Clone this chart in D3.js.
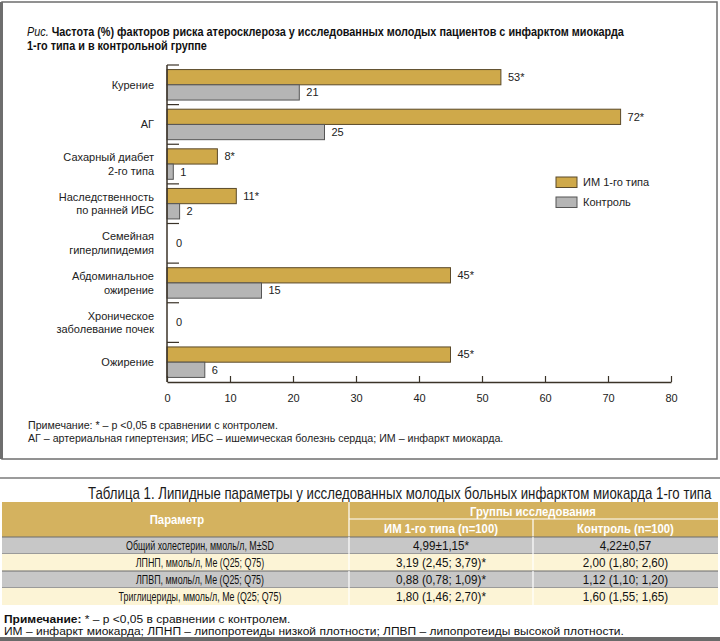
<!DOCTYPE html>
<html>
<head>
<meta charset="utf-8">
<script src="https://cdn.jsdelivr.net/npm/d3@7"></script>
<style>
  html, body { margin: 0; padding: 0; background: #fff; }
  svg { display: block; }
</style>
</head>
<body>
<svg id="chart" width="720" height="641"></svg>
<script>
// ---------- data ----------
const categories = [
  ["Курение"],
  ["АГ"],
  ["Сахарный диабет", "2-го типа"],
  ["Наследственность", "по ранней ИБС"],
  ["Семейная", "гиперлипидемия"],
  ["Абдоминальное", "ожирение"],
  ["Хроническое", "заболевание почек"],
  ["Ожирение"]
];
const seriesNames = ["ИМ 1-го типа", "Контроль"];
const miValues = [53, 72, 8, 11, 0, 45, 0, 45];
const miSignif = ["*", "*", "*", "*", "", "*", "", "*"];
const controlValues = [21, 25, 1, 2, 0, 15, 0, 6];
const xTicks = [0, 10, 20, 30, 40, 50, 60, 70, 80];

const titleItalic = "Рис.";
const titleLines = [
  " Частота (%) факторов риска атеросклероза у исследованных молодых пациентов с инфарктом миокарда",
  "1-го типа и в контрольной группе"
];
const noteLines = [
  "Примечание: * – р <0,05 в сравнении с контролем.",
  "АГ – артериальная гипертензия; ИБС – ишемическая болезнь сердца; ИМ – инфаркт миокарда."
];

const tableTitle = "Таблица 1. Липидные параметры у исследованных молодых больных инфарктом миокарда 1-го типа";
const tableHeader = ["Параметр", "Группы исследования", "ИМ 1-го типа (n=100)", "Контроль (n=100)"];
const tableParams = [
  "Общий холестерин, ммоль/л, M±SD",
  "ЛПНП, ммоль/л, Me (Q25; Q75)",
  "ЛПВП, ммоль/л, Me (Q25; Q75)",
  "Триглицериды, ммоль/л, Me (Q25; Q75)"
];
const tableMI = ["4,99±1,15*", "3,19 (2,45; 3,79)*", "0,88 (0,78; 1,09)*", "1,80 (1,46; 2,70)*"];
const tableControl = ["4,22±0,57", "2,00 (1,80; 2,60)", "1,12 (1,10; 1,20)", "1,60 (1,55; 1,65)"];
const tableNoteBold = "Примечание:";
const tableNoteRest = " * – р <0,05 в сравнении с контролем.";
const tableNote2 = "ИМ – инфаркт миокарда; ЛПНП – липопротеиды низкой плотности; ЛПВП – липопротеиды высокой плотности.";

// ---------- styles ----------
const gold = "#CFA94A", goldStroke = "#5b4a2a";
const grey = "#B5B5B5", greyStroke = "#555555";
const axisColor = "#3b3328";
const sansFont = "'Liberation Sans', Arial, sans-serif";

const svg = d3.select("#chart");

// horizontal squeeze helper (imitates condensed faces)
function squeeze(sel, k) {
  const x0 = +sel.attr("x");
  sel.attr("transform", `translate(${x0},0) scale(${k},1) translate(${-x0},0)`);
  return sel;
}
function widthOf(sel) { return sel.node().getComputedTextLength(); }

// figure box
svg.append("rect").attr("x", 2).attr("y", 2).attr("width", 715).attr("height", 457)
  .attr("fill", "none").attr("stroke", "#6e6e6e").attr("stroke-width", 1.5);
svg.append("line").attr("x1", 1.5).attr("x2", 1.5).attr("y1", 2).attr("y2", 459)
  .attr("stroke", "#6e6e6e").attr("stroke-width", 3);

// title
const t1 = svg.append("text").attr("x", 27).attr("y", 36)
  .attr("font-family", sansFont).attr("font-size", 12.5).attr("fill", "#111");
t1.append("tspan").attr("font-style", "italic").text(titleItalic);
t1.append("tspan").attr("font-weight", "bold").text(titleLines[0]);
const t2 = svg.append("text").attr("x", 27).attr("y", 50)
  .attr("font-family", sansFont).attr("font-size", 12.5).attr("font-weight", "bold").attr("fill", "#111")
  .text(titleLines[1]);
const kTitle = 598 / widthOf(t1);
squeeze(t1, kTitle); squeeze(t2, kTitle);

// scales
const x = d3.scaleLinear().domain([0, 80]).range([167, 671]);
const y = d3.scaleBand().domain(d3.range(categories.length)).range([65, 382]).paddingInner(0).paddingOuter(0);
const ySub = d3.scaleBand().domain(seriesNames).range([0, y.bandwidth()]).paddingInner(0).paddingOuter(0.3);

const g = svg.append("g");

const rows = categories.map((c, i) => ({ i, lines: c, mi: miValues[i], ctl: controlValues[i], sig: miSignif[i] }));

rows.forEach(r => {
  const y0 = y(r.i);
  const both0 = r.mi === 0 && r.ctl === 0;
  [[seriesNames[0], r.mi, gold, goldStroke, r.sig], [seriesNames[1], r.ctl, grey, greyStroke, ""]].forEach(([s, v, fill, stroke, sig]) => {
    const by = y0 + ySub(s);
    if (v > 0) {
      g.append("rect")
        .attr("x", x(0)).attr("y", by)
        .attr("width", x(v) - x(0)).attr("height", ySub.bandwidth())
        .attr("fill", fill).attr("stroke", stroke).attr("stroke-width", 1);
    }
    if (!both0) {
      g.append("text")
        .attr("x", x(v) + 7).attr("y", by + ySub.bandwidth() / 2)
        .attr("dy", "0.35em")
        .attr("font-family", sansFont).attr("font-size", 11).attr("fill", "#222")
        .text(v + sig);
    }
  });
  if (both0) {
    g.append("text")
      .attr("x", x(0) + 9).attr("y", y0 + y.bandwidth() / 2).attr("dy", "0.35em")
      .attr("font-family", sansFont).attr("font-size", 11).attr("fill", "#222")
      .text("0");
  }
  const n = r.lines.length;
  r.lines.forEach((line, k) => {
    g.append("text")
      .attr("x", 154)
      .attr("y", y0 + y.bandwidth() / 2 + (k - (n - 1) / 2) * 13.5)
      .attr("dy", "0.35em")
      .attr("text-anchor", "end")
      .attr("font-family", sansFont).attr("font-size", 11).attr("fill", "#222")
      .text(line);
  });
});

// y axis: vertical line + boundary ticks to the right
g.append("line").attr("x1", x(0)).attr("x2", x(0)).attr("y1", y.range()[0]).attr("y2", y.range()[1])
  .attr("stroke", axisColor).attr("stroke-width", 1.5);
g.selectAll(".ytick").data(d3.range(categories.length)).join("line")
  .attr("x1", x(0)).attr("x2", x(0) + 12)
  .attr("y1", d => y(d)).attr("y2", d => y(d))
  .attr("stroke", axisColor).attr("stroke-width", 1.2);

// x axis
const xAxis = d3.axisBottom(x).tickValues(xTicks).tickSizeInner(-6).tickSizeOuter(0).tickPadding(12);
const ax = svg.append("g").attr("transform", `translate(0,${y.range()[1]})`).call(xAxis);
ax.select(".domain").attr("stroke", axisColor).attr("stroke-width", 1.5);
ax.selectAll(".tick line").attr("stroke", axisColor).attr("stroke-width", 1.2);
ax.selectAll(".tick text").attr("font-family", sansFont).attr("font-size", 11).attr("fill", "#222");

// legend
const legend = svg.append("g");
[[seriesNames[0], gold, goldStroke], [seriesNames[1], grey, greyStroke]].forEach(([name, fill, stroke], i) => {
  legend.append("rect").attr("x", 556).attr("y", 177 + i * 20).attr("width", 21).attr("height", 10.5)
    .attr("fill", fill).attr("stroke", stroke).attr("stroke-width", 1);
  legend.append("text").attr("x", 583).attr("y", 182 + i * 20).attr("dy", "0.35em")
    .attr("font-family", sansFont).attr("font-size", 11).attr("fill", "#222").text(name);
});

// notes
const noteSel = noteLines.map((line, i) =>
  svg.append("text").attr("x", 28).attr("y", 425 + i * 13.5).attr("dy", "0.35em")
    .attr("font-family", sansFont).attr("font-size", 10.5).attr("fill", "#222").text(line));
const kNote = 476 / widthOf(noteSel[1]);
noteSel.forEach(s => squeeze(s, kNote));

// separator line
svg.append("line").attr("x1", 0).attr("x2", 720).attr("y1", 478).attr("y2", 478)
  .attr("stroke", "#7a7a7a").attr("stroke-width", 1.5);

// ---------- table ----------
const tt = svg.append("text").attr("x", 88).attr("y", 493).attr("dy", "0.35em")
  .attr("font-family", sansFont).attr("font-size", 16).attr("fill", "#1a1a1a").text(tableTitle);
squeeze(tt, 624 / widthOf(tt));

const colX = [2, 349, 533, 718];
const hdrTop = 502, hdrMid = 519, hdrBot = 537, rowH = 17;
const hdrGold = "#D4B25F";

svg.append("rect").attr("x", colX[0]).attr("y", hdrTop).attr("width", colX[3] - colX[0]).attr("height", hdrBot - hdrTop)
  .attr("fill", hdrGold);
svg.append("line").attr("x1", colX[1]).attr("x2", colX[1]).attr("y1", hdrTop).attr("y2", hdrBot).attr("stroke", "#fff").attr("stroke-width", 1.2);
svg.append("line").attr("x1", colX[1]).attr("x2", colX[3]).attr("y1", hdrMid).attr("y2", hdrMid).attr("stroke", "#fff").attr("stroke-width", 1.2);
svg.append("line").attr("x1", colX[2]).attr("x2", colX[2]).attr("y1", hdrMid).attr("y2", hdrBot).attr("stroke", "#fff").attr("stroke-width", 1.2);

const hdrSel = [];
const hdrText = (txt, cx, cy) => {
  const s = svg.append("text").attr("x", cx).attr("y", cy).attr("dy", "0.35em")
    .attr("text-anchor", "middle").attr("font-family", sansFont).attr("font-size", 13)
    .attr("font-weight", "bold").attr("fill", "#fff").text(txt);
  hdrSel.push(s);
  return s;
};
hdrText(tableHeader[0], 177, (hdrTop + hdrBot) / 2);
hdrText(tableHeader[1], 533, (hdrTop + hdrMid) / 2 + 0.5);
const hMI = hdrText(tableHeader[2], (colX[1] + colX[2]) / 2, (hdrMid + hdrBot) / 2 + 0.5);
hdrText(tableHeader[3], (colX[2] + colX[3]) / 2, (hdrMid + hdrBot) / 2 + 0.5);
const kHdr = 114 / widthOf(hMI);
hdrSel.forEach(s => squeeze(s, kHdr));

const paramSel = [], numSel = [];
tableParams.forEach((p, i) => {
  const ry = hdrBot + i * rowH;
  const isGrey = i % 2 === 0;
  svg.append("rect").attr("x", colX[0]).attr("y", ry).attr("width", colX[3] - colX[0]).attr("height", rowH)
    .attr("fill", isGrey ? "#C7C7C7" : "#FCF4D6");
  if (isGrey) {
    [ry, ry + rowH].forEach(ly => svg.append("line").attr("x1", colX[0]).attr("x2", colX[3]).attr("y1", ly).attr("y2", ly)
      .attr("stroke", "#6d6d6d").attr("stroke-width", 1));
  }
  [colX[1], colX[2]].forEach(cx => svg.append("line").attr("x1", cx).attr("x2", cx).attr("y1", ry).attr("y2", ry + rowH)
    .attr("stroke", "#fff").attr("stroke-width", 1.2));
  const cell = (txt, cx) => svg.append("text").attr("x", cx).attr("y", ry + rowH / 2).attr("dy", "0.35em")
    .attr("text-anchor", "middle").attr("font-family", sansFont).attr("font-size", 13).attr("fill", "#111").text(txt);
  paramSel.push(cell(p, 200));
  numSel.push(cell(tableMI[i], (colX[1] + colX[2]) / 2));
  numSel.push(cell(tableControl[i], (colX[2] + colX[3]) / 2));
});
const kParam = 148 / widthOf(paramSel[0]);
paramSel.forEach(s => squeeze(s, kParam));
const kNum = 90 / widthOf(numSel[2]);
numSel.forEach(s => squeeze(s, kNum));

const tn = svg.append("text").attr("x", 4).attr("y", 618.5).attr("dy", "0.35em")
  .attr("font-family", sansFont).attr("font-size", 11.5).attr("fill", "#111");
tn.append("tspan").attr("font-weight", "bold").text(tableNoteBold);
tn.append("tspan").text(tableNoteRest);
const tn2 = svg.append("text").attr("x", 4).attr("y", 631).attr("dy", "0.35em")
  .attr("font-family", sansFont).attr("font-size", 11.5).attr("fill", "#111").text(tableNote2);
const kTn = 620 / widthOf(tn2);
squeeze(tn, kTn); squeeze(tn2, kTn);

svg.append("rect").attr("x", 0).attr("y", 637).attr("width", 720).attr("height", 4).attr("fill", "#6a6a6a");
</script>
</body>
</html>
